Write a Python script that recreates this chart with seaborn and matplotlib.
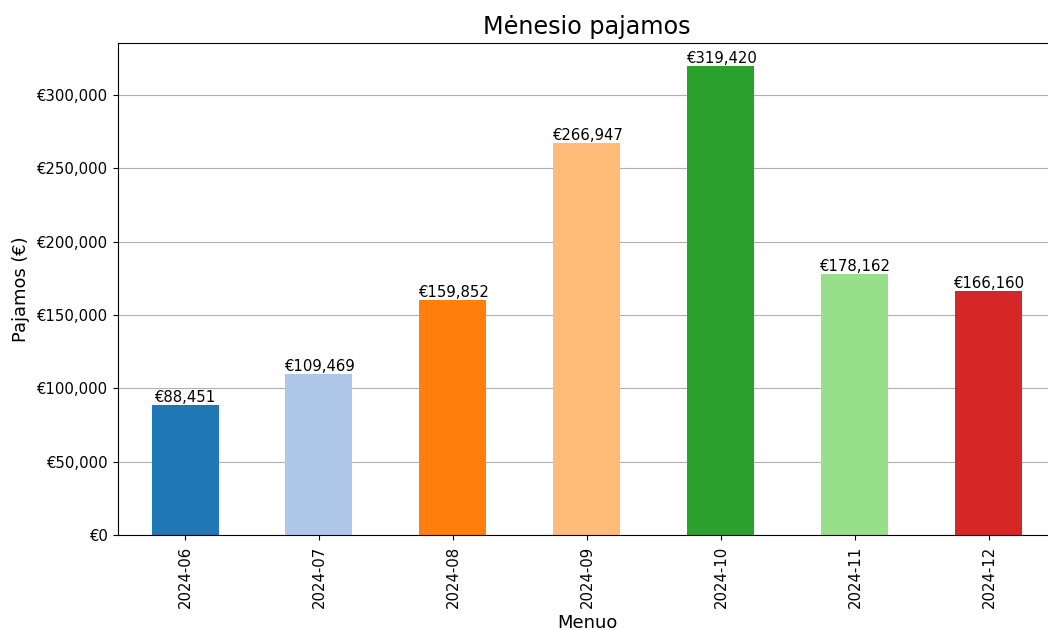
import matplotlib
matplotlib.use("Agg")
import matplotlib.pyplot as plt
import matplotlib.ticker as mticker
import seaborn as sns
import pandas as pd

months = ['2024-06', '2024-07', '2024-08', '2024-09', '2024-10', '2024-11', '2024-12']
revenue = [88451, 109469, 159852, 266947, 319420, 178162, 166160]

df = pd.DataFrame({'Menuo': months, 'Pajamos': revenue})
colors = sns.color_palette('tab20', 20)[:len(months)]

# the reference text is drawn a touch larger than matplotlib defaults
scale = 1.075

fig = plt.figure(figsize=(10.48, 6.3), dpi=100)
ax = fig.add_axes([0.1126, 0.1508, 0.895, 0.781])

sns.barplot(data=df, x='Menuo', y='Pajamos', hue='Menuo', palette=colors,
            width=0.5, legend=False, saturation=1, ax=ax)

for c in ax.containers:
    ax.bar_label(c, labels=[f'€{v:,.0f}' for v in c.datavalues], fontsize=10 * scale)

ax.set_xlim(-0.5, len(months) - 0.5)
ax.set_ylim(0, max(revenue) * 1.05)
ax.yaxis.set_major_formatter(mticker.FuncFormatter(lambda v, p: f'€{v:,.0f}'))
ax.tick_params(axis='x', rotation=90)
ax.tick_params(labelsize=10 * scale, length=3.5 * scale, pad=3.5 * scale)
ax.grid(axis='y')
ax.set_axisbelow(True)

ax.set_title('Mėnesio pajamos', fontsize=16 * scale, pad=6 * scale)
ax.set_xlabel('Menuo', fontsize=12 * scale, labelpad=4 * scale)
ax.set_ylabel('Pajamos (€)', fontsize=12 * scale, labelpad=4 * scale)

fig.savefig('out.png', dpi=100)
